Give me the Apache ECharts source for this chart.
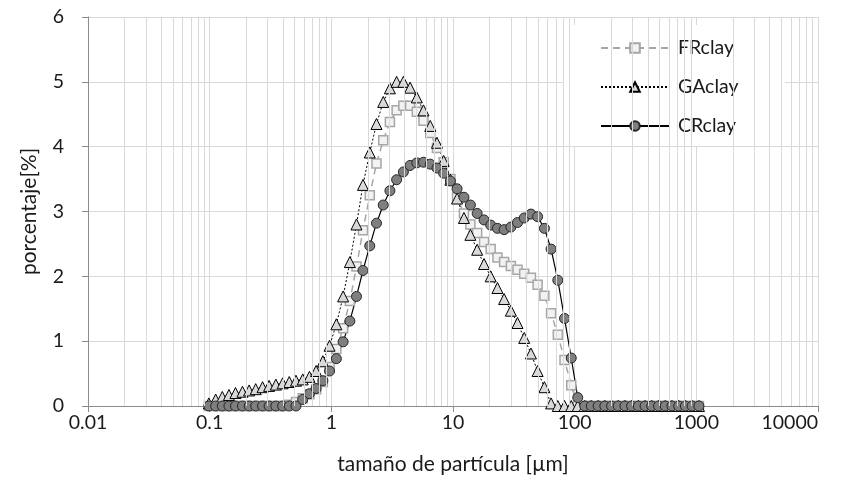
<!DOCTYPE html>
<html>
<head>
<meta charset="utf-8">
<script src="https://cdn.jsdelivr.net/npm/echarts@6/dist/echarts.min.js"></script>
<style>html,body{margin:0;padding:0;background:#fff}#c{width:856px;height:485px}</style>
</head>
<body>
<div id="c"></div>
<script>
const sizes = [0.0985,0.112,0.127,0.144,0.163,0.186,0.211,0.239,0.272,0.308,0.35,0.398,0.451,0.512,0.582,0.661,0.75,0.852,0.967,1.1,1.25,1.42,1.61,1.82,2.07,2.35,2.67,3.03,3.44,3.91,4.44,5.04,5.72,6.5,7.38,8.38,9.52,10.8,12.3,13.9,15.8,18,20.4,23.2,26.3,29.9,33.9,38.5,43.7,49.6,56.4,64,72.7,82.5,93.7,106,121,137,156,177,201,228,259,294,334,379,430,489,555,630,716,813,923,1050];
const FRclay = [0,0,0,0,0,0,0,0,0,0,0,0,0.02,0.06,0.12,0.18,0.26,0.37,0.60,
  0.88,1.20,1.62,2.15,2.71,3.25,3.74,4.10,4.38,4.56,4.63,4.63,4.54,4.40,4.21,3.98,3.76,3.50,
  3.22,2.97,2.80,2.67,2.53,2.42,2.29,2.22,2.16,2.10,2.04,1.98,1.87,1.70,1.43,1.10,0.71,0.32,
  0,0,0,0,0,0,0,0,0,0,0,0,0,0,0,0,0,0,0];
const GAclay = [0.04,0.10,0.14,0.17,0.20,0.22,0.24,0.26,0.29,0.31,0.33,0.35,0.37,0.39,0.41,0.45,0.54,0.69,0.93,
  1.26,1.69,2.22,2.80,3.41,3.91,4.35,4.69,4.90,5.00,5.00,4.91,4.76,4.56,4.32,4.06,3.78,3.49,
  3.20,2.90,2.64,2.41,2.19,2.00,1.82,1.65,1.47,1.28,1.05,0.81,0.54,0.29,0.04,
  0,0,0,0,0,0,0,0,0,0,0,0,0,0,0,0,0,0,0,0,0,0];
const CRclay = [0,0,0,0,0,0,0,0,0,0,0,0,0,0,0.10,0.19,0.27,0.39,0.54,
  0.73,0.99,1.31,1.69,2.09,2.47,2.82,3.10,3.32,3.49,3.61,3.71,3.75,3.76,3.73,3.67,3.59,3.47,
  3.35,3.22,3.10,2.97,2.87,2.79,2.74,2.72,2.76,2.83,2.90,2.96,2.92,2.74,2.42,1.94,1.35,0.74,0.13,
  0,0,0,0,0,0,0,0,0,0,0,0,0,0,0,0,0,0];
const xTickLabels = ['0.01','0.1','1','10','100','1000','10000'];
const yTickLabels = ['0','1','2','3','4','5','6'];
const seriesNames = ['FRclay','GAclay','CRclay'];

// minor vertical grid lines (2..9 of each decade)
const minorGrid = [];
for (let d = -2; d < 4; d++) for (let m = 2; m <= 9; m++) minorGrid.push(m * Math.pow(10, d));

const pair = arr => sizes.map((s, i) => [s, arr[i]]);
const FONT = 'Lato';
const TXT = '#1a1a1a';
const chart = echarts.init(document.getElementById('c'), null, {renderer: 'canvas'});
chart.setOption({
  animation: false,
  grid: {left: 88, right: 38, top: 17, bottom: 79, containLabel: false},
  xAxis: {
    type: 'log', logBase: 10, min: 0.01, max: 10000, splitNumber: 6,
    name: 'tamaño de partícula [µm]', nameLocation: 'middle', nameGap: 48,
    nameTextStyle: {fontFamily: FONT, fontSize: 21, color: TXT},
    axisLine: {lineStyle: {color: '#8c8c8c', width: 1}},
    axisTick: {show: true, inside: false, length: 6, lineStyle: {color: '#8c8c8c'}},
    axisLabel: {fontFamily: FONT, fontSize: 19.5, color: TXT, margin: 7, alignMaxLabel: 'right',
      formatter: v => { const i = Math.round(Math.log10(v)) + 2; return xTickLabels[i] !== undefined ? xTickLabels[i] : ''; }},
    splitLine: {show: true, lineStyle: {color: '#d9d9d9', width: 1}}
  },
  yAxis: {
    type: 'value', min: 0, max: 6, interval: 1,
    name: 'porcentaje[%]', nameLocation: 'middle', nameGap: 48, nameRotate: 90,
    nameTextStyle: {fontFamily: FONT, fontSize: 21, color: TXT},
    axisLine: {show: true, lineStyle: {color: '#8c8c8c', width: 1}},
    axisTick: {show: true, inside: false, length: 6, lineStyle: {color: '#8c8c8c'}},
    axisLabel: {fontFamily: FONT, fontSize: 19.5, color: TXT, margin: 24,
      formatter: v => yTickLabels[Math.round(v)]},
    splitLine: {show: true, lineStyle: {color: '#d9d9d9', width: 1}}
  },
  legend: {
    orient: 'vertical', left: 563, top: 25,
    padding: [13, 46, 10, 37],
    backgroundColor: '#ffffff',
    itemWidth: 68, itemHeight: 12, itemGap: 19,
    textStyle: {fontFamily: FONT, fontSize: 19.5, color: TXT, padding: [0, 0, 0, 4]},
    data: seriesNames
  },
  series: [
    {
      type: 'line', name: '_grid', data: [], z: 1, silent: true,
      markLine: {silent: true, symbol: 'none', label: {show: false},
        lineStyle: {color: '#d9d9d9', type: 'solid', width: 1},
        data: minorGrid.map(v => ({xAxis: v}))}
    },
    {
      type: 'line', name: seriesNames[0], data: pair(FRclay),
      symbol: 'rect', symbolSize: 9,
      itemStyle: {color: '#f2f2f2', borderColor: '#a6a6a6', borderWidth: 1.5},
      lineStyle: {color: '#a6a6a6', width: 1.5, type: [7, 5]}
    },
    {
      type: 'line', name: seriesNames[1], data: pair(GAclay),
      symbol: 'triangle', symbolSize: 11,
      itemStyle: {color: '#d9d9d9', borderColor: '#000', borderWidth: 1},
      lineStyle: {color: '#000', width: 1, type: [2, 2]}
    },
    {
      type: 'line', name: seriesNames[2], data: pair(CRclay),
      symbol: 'circle', symbolSize: 10,
      itemStyle: {color: '#7f7f7f', borderColor: '#262626', borderWidth: 1},
      lineStyle: {color: '#000', width: 1.2, type: 'solid'}
    }
  ]
});
</script>
</body>
</html>
